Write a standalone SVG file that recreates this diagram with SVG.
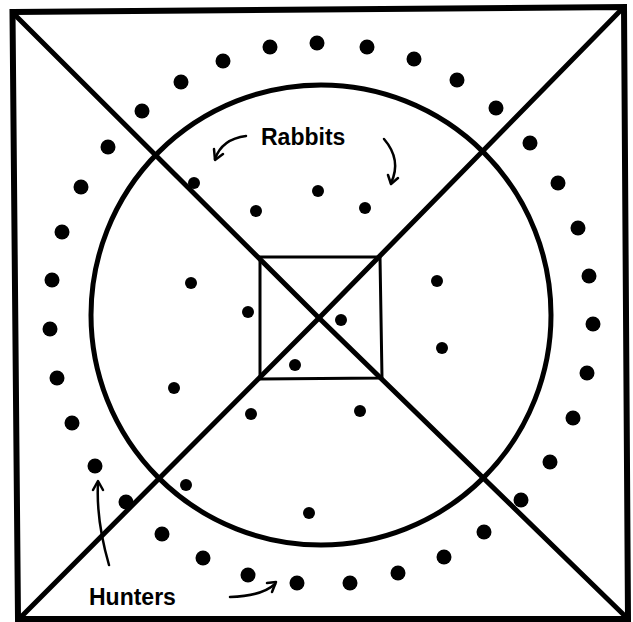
<svg xmlns="http://www.w3.org/2000/svg" width="633" height="622" viewBox="0 0 633 622">
<style>
.frame{fill:none;stroke:#000;stroke-width:6;stroke-linejoin:miter}
.diag{fill:none;stroke:#000;stroke-width:5}
.ring{fill:none;stroke:#000;stroke-width:5}
.inner{fill:none;stroke:#000;stroke-width:3}
.hunter{fill:#000}
.rabbit{fill:#000}
.arrow{fill:none;stroke:#000;stroke-width:2.5;stroke-linecap:round;stroke-linejoin:round}
.label{font-family:"Liberation Sans",Arial,sans-serif;font-weight:bold;font-size:23px;fill:#000}
</style>
<rect width="633" height="622" fill="#fff"/>
<g id="outer-square"><polygon class="frame" points="12.5,12 624,7 628,619 18,619"/></g>
<g id="diagonals">
<path class="diag" d="M14,14 L319,318 L626,617"/>
<path class="diag" d="M621,10 L319,318 L20,618"/>
</g>
<g id="circle"><circle class="ring" cx="321" cy="315" r="230"/></g>
<g id="inner-square"><polygon class="inner" points="260,257 380,257 382,378 260,379"/></g>
<g id="hunters">
<circle class="hunter" cx="317" cy="43" r="7.5"/><circle class="hunter" cx="367" cy="47" r="7.5"/><circle class="hunter" cx="414" cy="59" r="7.5"/><circle class="hunter" cx="457" cy="80" r="7.5"/><circle class="hunter" cx="496" cy="108" r="7.5"/><circle class="hunter" cx="530" cy="143" r="7.5"/><circle class="hunter" cx="558" cy="183" r="7.5"/><circle class="hunter" cx="578" cy="228" r="7.5"/><circle class="hunter" cx="589" cy="276" r="7.5"/><circle class="hunter" cx="593" cy="324" r="7.5"/><circle class="hunter" cx="587" cy="373" r="7.5"/><circle class="hunter" cx="573" cy="418" r="7.5"/><circle class="hunter" cx="550" cy="462" r="7.5"/><circle class="hunter" cx="521" cy="500" r="7.5"/><circle class="hunter" cx="484" cy="532" r="7.5"/><circle class="hunter" cx="444" cy="557" r="7.5"/><circle class="hunter" cx="398" cy="573" r="7.5"/><circle class="hunter" cx="350" cy="583" r="7.5"/><circle class="hunter" cx="297" cy="583" r="7.5"/><circle class="hunter" cx="248" cy="575" r="7.5"/><circle class="hunter" cx="203" cy="558" r="7.5"/><circle class="hunter" cx="162" cy="534" r="7.5"/><circle class="hunter" cx="126" cy="502" r="7.5"/><circle class="hunter" cx="95" cy="466" r="7.5"/><circle class="hunter" cx="72" cy="423" r="7.5"/><circle class="hunter" cx="57" cy="378" r="7.5"/><circle class="hunter" cx="50" cy="329" r="7.5"/><circle class="hunter" cx="52" cy="280" r="7.5"/><circle class="hunter" cx="62" cy="232" r="7.5"/><circle class="hunter" cx="81" cy="187" r="7.5"/><circle class="hunter" cx="108" cy="147" r="7.5"/><circle class="hunter" cx="142" cy="111" r="7.5"/><circle class="hunter" cx="181" cy="82" r="7.5"/><circle class="hunter" cx="223" cy="61" r="7.5"/><circle class="hunter" cx="270" cy="47" r="7.5"/>
</g>
<g id="rabbits">
<circle class="rabbit" cx="194" cy="183" r="6"/><circle class="rabbit" cx="256" cy="211" r="6"/><circle class="rabbit" cx="318" cy="191" r="6"/><circle class="rabbit" cx="365" cy="208" r="6"/><circle class="rabbit" cx="191" cy="283" r="6"/><circle class="rabbit" cx="248" cy="312" r="6"/><circle class="rabbit" cx="437" cy="281" r="6"/><circle class="rabbit" cx="341" cy="320" r="6"/><circle class="rabbit" cx="442" cy="348" r="6"/><circle class="rabbit" cx="174" cy="388" r="6"/><circle class="rabbit" cx="295" cy="365" r="6"/><circle class="rabbit" cx="251" cy="414" r="6"/><circle class="rabbit" cx="360" cy="411" r="6"/><circle class="rabbit" cx="186" cy="485" r="6"/><circle class="rabbit" cx="309" cy="513" r="6"/>
</g>
<g id="label-rabbits"><text class="label" x="261" y="145">Rabbits</text></g>
<g id="label-hunters"><text class="label" x="89" y="605">Hunters</text></g>
<g id="connectors">
<path class="arrow" d="M246,136 Q222,139 215,159"/>
<path class="arrow" d="M214,149 L215,160 L223,154"/>
<path class="arrow" d="M384,139 Q402,160 391,183"/>
<path class="arrow" d="M388,175 L391,184 L398,178"/>
<path class="arrow" d="M109,565 Q96,520 98,483"/>
<path class="arrow" d="M93,490 L98,481 L103,490"/>
<path class="arrow" d="M230,597 Q262,596 275,584"/>
<path class="arrow" d="M267,583 L276,582 L272,592"/>
</g>
</svg>
